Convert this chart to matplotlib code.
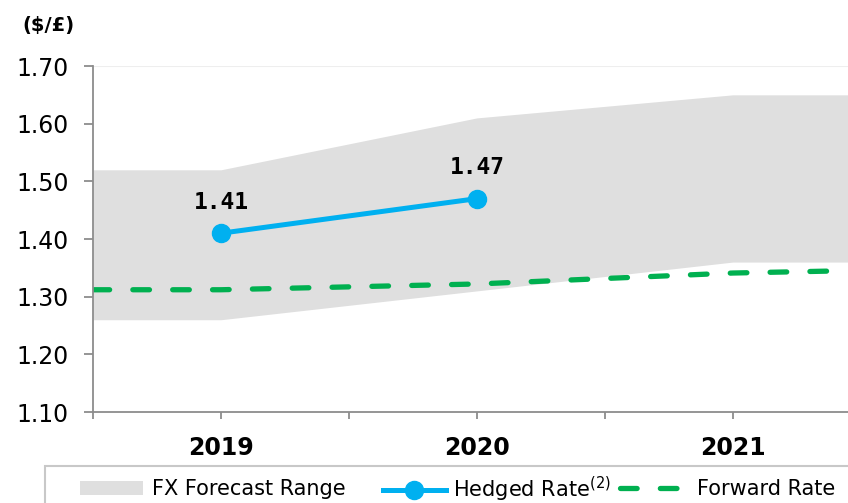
import matplotlib.pyplot as plt
from matplotlib.lines import Line2D
from matplotlib.patches import Patch, Rectangle

# Data (x in years from 2019, band runs to the plot edges)
years = ['2019', '2020', '2021']
year_pos = [0, 1, 2]
band_x = [-0.5, 0, 1, 2, 2.45]
band_low = [1.26, 1.26, 1.31, 1.36, 1.36]
band_high = [1.52, 1.52, 1.61, 1.65, 1.65]
fwd_x = [-0.5, 0, 1, 2, 2.45]
fwd_rate = [1.312, 1.312, 1.322, 1.341, 1.345]
hedged_x = [0, 1]
hedged_rate = [1.41, 1.47]

grey = '#dfdfdf'
blue = '#00b0f0'
green = '#00b050'
axis_col = '#8c8c8c'
fwd_dash = (3.15, 4.4)

fig = plt.figure(figsize=(8.48, 5.03), dpi=100)
ax = fig.add_axes([93 / 848, 1 - 412 / 503, 1 - 93 / 848, (412 - 66) / 503])

ax.fill_between(band_x, band_low, band_high, color=grey, linewidth=0, zorder=1)
ax.axhline(1.70, color='#eeeeee', linewidth=1.5, zorder=0)
ax.plot(fwd_x, fwd_rate, color=green, linewidth=3.8, dashes=fwd_dash,
        dash_capstyle='round', zorder=2)
ax.plot(hedged_x, hedged_rate, color=blue, linewidth=3.6, marker='o',
        markersize=13, zorder=3)
for x, v in zip(hedged_x, hedged_rate):
    ax.annotate(f'{v:.2f}', (x, v), xytext=(0, 14), textcoords='offset points',
                ha='center', va='bottom', fontsize=16.5, fontweight='bold',
                family='DejaVu Sans Mono')

ax.set_xlim(-0.5, 2.45)
ax.set_ylim(1.10, 1.70)
ax.set_yticks([1.10, 1.20, 1.30, 1.40, 1.50, 1.60, 1.70])
ax.set_yticklabels([f'{t:.2f}' for t in ax.get_yticks()], fontsize=17)
ax.set_xticks([-0.5, 0, 0.5, 1, 1.5, 2])
ax.set_xticklabels(['', years[0], '', years[1], '', years[2]],
                   fontsize=17, fontweight='bold')

for s in ['top', 'right']:
    ax.spines[s].set_visible(False)
for s in ['left', 'bottom']:
    ax.spines[s].set_color(axis_col)
    ax.spines[s].set_linewidth(1.3)
ax.tick_params(axis='y', length=6.5, width=1.3, color=axis_col, pad=11)
ax.tick_params(axis='x', length=5, width=1.3, color=axis_col, pad=12)

fig.text(22 / 848, 1 - 25 / 503, '($/£)', fontsize=14, fontweight='bold',
         va='center', ha='left')

# legend box, running off the right and bottom edges
fig.patches.append(Rectangle((45 / 848, -0.2), 1.0, 0.2 + (503 - 466) / 503,
                             transform=fig.transFigure, fill=False,
                             edgecolor='#c8c8c8', linewidth=1.5))

leg_y = 1 - 489 / 503
items = [
    (Patch(facecolor=grey, edgecolor='none'), 'FX Forecast Range', 80, 0.45),
    (Line2D([], [], color=blue, linewidth=3.6, marker='o', markersize=13),
     'Hedged Rate$^{(2)}$', 383, 0.35),
    (Line2D([], [], color=green, linewidth=3.8, dashes=fwd_dash,
            dash_capstyle='round'), 'Forward Rate', 620, 0.7),
]
for h, lab, px, pad in items:
    fig.legend([h], [lab], loc='center left', bbox_to_anchor=(px / 848, leg_y),
               frameon=False, fontsize=15, handlelength=3.0, handleheight=0.67,
               handletextpad=pad, borderpad=0, borderaxespad=0)

fig.savefig('out.png', dpi=100)
